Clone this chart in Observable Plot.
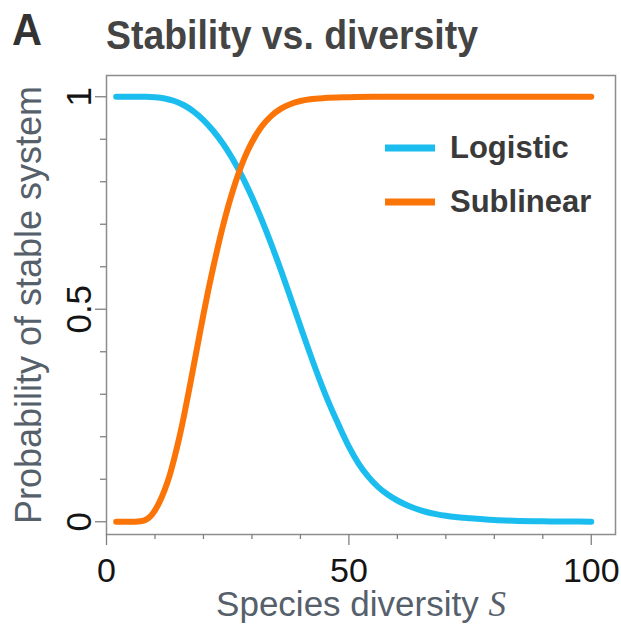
<!DOCTYPE html>
<html>
<head>
<meta charset="utf-8">
<script src="https://cdn.jsdelivr.net/npm/d3@7"></script>
<script src="https://cdn.jsdelivr.net/npm/@observablehq/plot@0.6"></script>
<style>
  html, body { margin: 0; padding: 0; background: #fff; }
  #wrap { width: 621px; }
  svg { display: block; }
</style>
</head>
<body>
<div id="wrap"></div>
<script>
// ---- data ----
const seriesNames = ["Logistic", "Sublinear"];
const seriesColors = ["#1bbdef", "#fb7408"];

const logisticS = [2,4,6,8,10,12,14,16,18,20,22,24,26,28,30,32,34,36,38,40,42,44,46,48,50,52,54,56,58,60,62,64,66,68,70,72,75,80,85,90,95,100];
const logisticP = [1.000,1.000,1.000,1.000,0.999,0.996,0.990,0.980,0.965,0.945,0.920,0.890,0.854,0.812,0.764,0.711,0.653,0.591,0.526,0.460,0.395,0.333,0.276,0.225,0.177,0.137,0.106,0.082,0.064,0.050,0.039,0.030,0.023,0.018,0.014,0.011,0.008,0.004,0.002,0.001,0.0005,0.0002];

const sublinearS = [2,4,6,7,8,9,10,11,12,13,14,15,16,17,18,19,20,21,22,23,24,25,26,27,28,29,30,32,34,36,38,40,42,45,50,55,60,70,80,90,100];
const sublinearP = [0,0,0,0.001,0.004,0.012,0.027,0.048,0.075,0.108,0.150,0.197,0.250,0.308,0.368,0.428,0.488,0.545,0.598,0.648,0.695,0.738,0.777,0.812,0.843,0.870,0.893,0.930,0.955,0.972,0.983,0.990,0.994,0.997,0.999,1,1,1,1,1,1];

const xMajorTicks = [0, 50, 100];
const xMinorTicks = [10, 20, 30, 40, 60, 70, 80, 90];
const yMajorTicks = [0, 0.5, 1];
const yTickLabels = ["0", "0.5", "1"];
const yMinorTicks = [0.1, 0.2, 0.3, 0.4, 0.6, 0.7, 0.8, 0.9];

const panelLetter = "A";
const titleText = "Stability vs. diversity";
const xLabelText = "Species diversity ";
const xLabelVar = "S";
const yLabelText = "Probability of stable system";

// ---- build rows ----
const rows = [
  ...logisticS.map((s, i) => ({S: s, p: logisticP[i], series: seriesNames[0]})),
  ...sublinearS.map((s, i) => ({S: s, p: sublinearP[i], series: seriesNames[1]}))
];

const wrap = document.getElementById("wrap");

// ---- header (panel letter + title) ----
const header = d3.create("svg").attr("width", 621).attr("height", 60);
header.append("text")
  .attr("x", 12).attr("y", 45)
  .attr("font-family", "Liberation Sans, Arial, sans-serif")
  .attr("font-weight", "bold").attr("font-size", 45)
  .attr("textLength", 30).attr("lengthAdjust", "spacingAndGlyphs")
  .attr("fill", "#333")
  .text(panelLetter);
header.append("text")
  .attr("x", 106).attr("y", 49)
  .attr("font-family", "Liberation Sans, Arial, sans-serif")
  .attr("font-weight", "bold").attr("font-size", 40)
  .attr("textLength", 372).attr("lengthAdjust", "spacingAndGlyphs")
  .attr("fill", "#444")
  .text(titleText);
wrap.appendChild(header.node());

// ---- chart ----
const plot = Plot.plot({
  width: 621,
  height: 577,
  marginTop: 15,
  marginBottom: 103,
  marginLeft: 106,
  marginRight: 6,
  style: {fontFamily: "Liberation Sans, Arial, sans-serif", background: "white", overflow: "visible"},
  x: {domain: [0, 105], axis: null},
  y: {domain: [-0.03, 1.05], axis: null},
  color: {domain: seriesNames, range: seriesColors},
  marks: [
    Plot.frame({stroke: "#8c8c8c", strokeWidth: 1.5}),
    Plot.axisX({ticks: xMinorTicks, tickSize: 5, tickFormat: () => "", label: null, stroke: "#808080", strokeWidth: 1.3}),
    Plot.axisX({ticks: xMajorTicks, tickSize: 11, tickPadding: 12, fontSize: 34, label: null, stroke: "#808080", strokeWidth: 1.3, fill: "#141414", tickFormat: d => String(d)}),
    Plot.axisY({ticks: yMinorTicks, tickSize: 6, tickFormat: () => "", label: null, stroke: "#808080", strokeWidth: 1.3}),
    Plot.axisY({ticks: yMajorTicks, tickSize: 11, tickFormat: () => "", label: null, stroke: "#808080", strokeWidth: 1.3}),
    Plot.text(yMajorTicks, {
      y: d => d, text: (d, i) => yTickLabels[i],
      frameAnchor: "left", textAnchor: "middle", rotate: -90, lineAnchor: "bottom",
      dx: -16, fontSize: 35, fill: "#141414"
    }),
    Plot.text([yLabelText], {
      text: d => d, frameAnchor: "left", textAnchor: "middle", rotate: -90, lineAnchor: "bottom",
      dx: -66, fontSize: 36, fill: "#56606b"
    }),
    Plot.text([xLabelText], {
      text: d => d, frameAnchor: "bottom", textAnchor: "middle", lineAnchor: "bottom",
      dy: 81, fontSize: 35, fill: "#56606b", className: "xlabel"
    }),
    Plot.line(rows, {
      x: "S", y: "p", stroke: "series", z: "series",
      strokeWidth: 6, curve: "monotone-x", strokeLinecap: "round", strokeLinejoin: "round"
    })
  ]
});

// italic math variable in the x label
const xl = d3.select(plot).select("g.xlabel text");
xl.append("tspan")
  .attr("font-family", "Liberation Serif, DejaVu Serif, serif")
  .attr("font-style", "italic")
  .text(xLabelVar);

// legend (inside plot, upper right)
const leg = d3.select(plot).append("g")
  .attr("font-family", "Liberation Sans, Arial, sans-serif")
  .attr("font-weight", "bold").attr("font-size", 31).attr("fill", "#3a3a3a")
  .attr("text-anchor", "start");
seriesNames.forEach((name, i) => {
  const yy = 88 + i * 54;
  leg.append("line")
    .attr("x1", 385).attr("x2", 435).attr("y1", yy).attr("y2", yy)
    .attr("stroke", seriesColors[i]).attr("stroke-width", 7);
  leg.append("text").attr("x", 450).attr("y", yy + 10).attr("text-anchor", "start").text(name);
});

wrap.appendChild(plot);
</script>
</body>
</html>
